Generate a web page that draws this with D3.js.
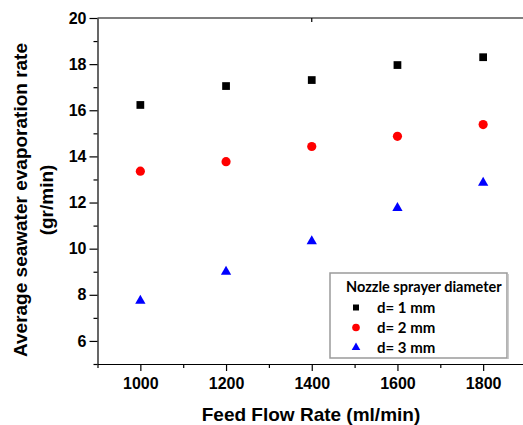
<!DOCTYPE html>
<html>
<head>
<meta charset="utf-8">
<script src="https://cdn.jsdelivr.net/npm/d3@7"></script>
<style>
  html, body { margin: 0; padding: 0; background: #fff; }
  svg { display: block; }
  .axis text { font-family: "Liberation Sans", Arial, sans-serif; font-weight: bold; font-size: 16px; fill: #000; }
  .axis path, .axis line { stroke: #000; stroke-width: 1.2px; }
</style>
</head>
<body>
<svg id="chart" width="523" height="425"></svg>
<script>
// ---- data ----
const flowRates = [1000, 1200, 1400, 1600, 1800];
const d1mm = [16.23, 17.05, 17.31, 17.96, 18.30];
const d2mm = [13.36, 13.77, 14.43, 14.87, 15.38];
const d3mm = [7.74, 9.00, 10.32, 11.76, 12.86];
const seriesNames = ["d= 1 mm", "d= 2 mm", "d= 3 mm"];
const xTicks = [1000, 1200, 1400, 1600, 1800];
const yTicks = [6, 8, 10, 12, 14, 16, 18, 20];
const legendTitle = "Nozzle sprayer diameter";
const xTitle = "Feed Flow Rate (ml/min)";
const yTitle1 = "Average seawater evaporation rate";
const yTitle2 = "(gr/min)";

const series = [
  { name: seriesNames[0], values: d1mm, color: "#000000", shape: d3.symbolSquare, size: 60, lsize: 36 },
  { name: seriesNames[1], values: d2mm, color: "#ff0000", shape: d3.symbolCircle, size: 66, lsize: 46 },
  { name: seriesNames[2], values: d3mm, color: "#0000ff", shape: d3.symbolTriangle, size: 46, lsize: 32 }
];

const svg = d3.select("#chart");
const x = d3.scaleLinear().domain([900, 1900]).range([97.5, 526]);
const y = d3.scaleLinear().domain([5, 20]).range([364, 18]);

// top frame line
svg.append("line").attr("x1", x(900)).attr("x2", 523).attr("y1", y(20)).attr("y2", y(20))
  .attr("stroke", "#000").attr("stroke-width", 1.2);
svg.append("line").attr("x1", x(1400)).attr("x2", x(1400)).attr("y1", y(20)).attr("y2", y(20) + 4)
  .attr("stroke", "#000").attr("stroke-width", 1.2);

// x axis: major + minor
const gx = svg.append("g").attr("class", "axis").attr("transform", `translate(0,${y(5)})`);
gx.call(d3.axisBottom(x).tickValues(xTicks).tickFormat(d3.format("d")).tickSize(7).tickPadding(7).tickSizeOuter(0));
const gxm = svg.append("g").attr("class", "axis").attr("transform", `translate(0,${y(5)})`);
gxm.call(d3.axisBottom(x).tickValues([900, 1100, 1300, 1500, 1700]).tickFormat("").tickSize(4).tickSizeOuter(0));
gxm.select(".domain").remove();

// y axis: major + minor
const gy = svg.append("g").attr("class", "axis").attr("transform", `translate(${x(900)},0)`);
gy.call(d3.axisLeft(y).tickValues(yTicks).tickFormat(d3.format("d")).tickSize(8).tickPadding(3).tickSizeOuter(0));
const gym = svg.append("g").attr("class", "axis").attr("transform", `translate(${x(900)},0)`);
gym.call(d3.axisLeft(y).tickValues([5, 7, 9, 11, 13, 15, 17, 19]).tickFormat("").tickSize(4).tickSizeOuter(0));
gym.select(".domain").remove();

// points
series.forEach(s => {
  svg.append("g").selectAll("path").data(s.values).join("path")
    .attr("d", d3.symbol().type(s.shape).size(s.size))
    .attr("transform", (v, i) => `translate(${x(flowRates[i])},${y(v)})`)
    .attr("fill", s.color);
});

// axis titles
svg.append("text").attr("x", 311).attr("y", 421).attr("text-anchor", "middle")
  .style("font-family", "Liberation Sans, Arial, sans-serif").style("font-weight", "bold").style("font-size", "19px")
  .text(xTitle);
const yt = svg.append("text").attr("transform", "translate(0,200) rotate(-90)").attr("text-anchor", "middle")
  .style("font-family", "Liberation Sans, Arial, sans-serif").style("font-weight", "bold").style("font-size", "19px");
yt.append("tspan").attr("x", 0).attr("y", 27).text(yTitle1);
yt.append("tspan").attr("x", 0).attr("y", 53).text(yTitle2);

// legend
const lg = svg.append("g");
lg.append("rect").attr("x", 330).attr("y", 273).attr("width", 177).attr("height", 85)
  .attr("fill", "#fff").attr("stroke", "#9a9a9a").attr("stroke-width", 1.5);
lg.append("line").attr("x1", 508).attr("x2", 508).attr("y1", 274).attr("y2", 359).attr("stroke", "#bbb").attr("stroke-width", 1.5);
lg.append("text").attr("x", 346).attr("y", 292)
  .style("font-family", "Lato, sans-serif").style("font-weight", "bold").style("font-size", "14.5px")
  .text(legendTitle);
series.forEach((s, i) => {
  const cy = 307.5 + i * 20;
  lg.append("path").attr("d", d3.symbol().type(s.shape).size(s.lsize))
    .attr("transform", `translate(356,${cy})`).attr("fill", s.color);
  lg.append("text").attr("x", 377).attr("y", cy + 5)
    .style("font-family", "Lato, sans-serif").style("font-weight", "bold").style("font-size", "15px")
    .text(s.name);
});
</script>
</body>
</html>
